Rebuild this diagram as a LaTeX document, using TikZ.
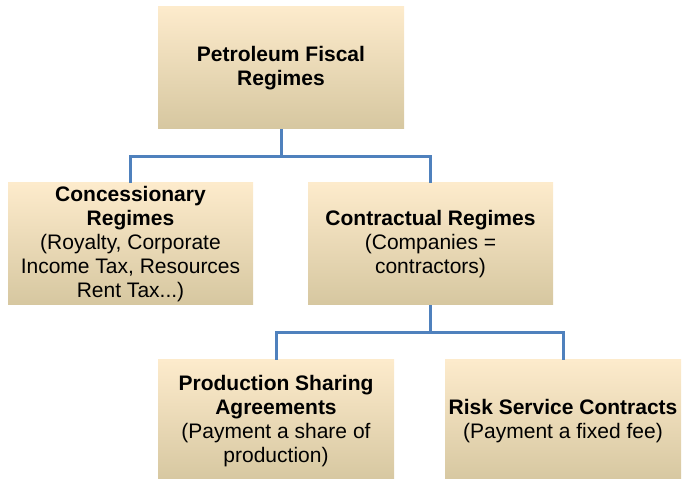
\documentclass[tikz,border=0pt]{standalone}
\usepackage{fontspec}
\setmainfont{Liberation Sans}
\definecolor{boxtop}{RGB}{253,235,204}
\definecolor{boxmid}{RGB}{243,235,214}
\definecolor{boxbot}{RGB}{214,199,160}
\definecolor{linkblue}{RGB}{79,129,189}
\begin{document}
\begin{tikzpicture}[node distance=176pt,
    box/.style={rectangle,minimum width=245pt,minimum height=122pt,inner sep=2pt,
      top color=boxtop,middle color=boxmid,bottom color=boxbot,align=center,
      font=\fontsize{21}{24}\selectfont},
    small/.style={box,minimum width=236pt},
    link/.style={draw=linkblue,line width=3pt}]
      \useasboundingbox (0,0) rectangle (696pt,479pt);

      % Level 1
      \node[box,minimum width=246pt] (fiscal) at (281pt,411pt) {\textbf{Petroleum Fiscal}\\\textbf{Regimes}};

      % Level 2
      \node[box,below of=fiscal,xshift=149.5pt] (contract) {\textbf{Contractual Regimes}\\(Companies =\\contractors)};
      \node[box,left of=contract,node distance=300pt] (concess) {\textbf{Concessionary}\\\textbf{Regimes}\\(Royalty, Corporate\\Income Tax, Resources\\Rent Tax...)};

      % Level 3
      \node[small,below of=contract,xshift=-154.5pt,yshift=-1pt] (sharing) {\textbf{Production Sharing}\\\textbf{Agreements}\\(Payment a share of\\production)};
      \node[small,right of=sharing,node distance=287pt] (service) {\textbf{Risk Service Contracts}\\(Payment a fixed fee)};

      % Edges
      \draw[link] (fiscal.south) -- ++(0,-27pt) -| (concess.north);
      \draw[link] (fiscal.south) -- ++(0,-27pt) -| (contract.north);
      \draw[link] (contract.south) -- ++(0,-27.5pt) -| (sharing.north);
      \draw[link] (contract.south) -- ++(0,-27.5pt) -| (service.north);
    \end{tikzpicture}
\end{document}
